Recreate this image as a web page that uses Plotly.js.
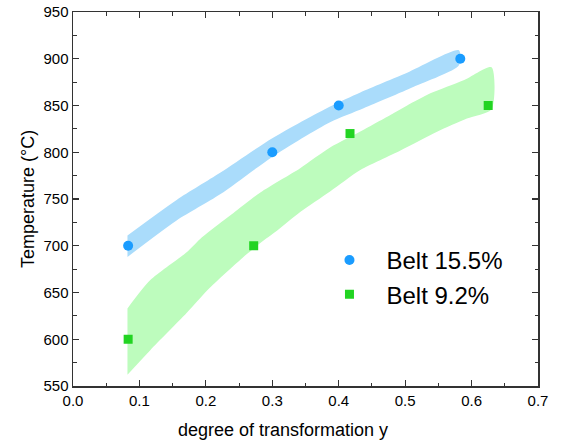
<!DOCTYPE html>
<html>
<head>
<meta charset="utf-8">
<script src="https://cdn.plot.ly/plotly-3.0.1.min.js"></script>
<style>html,body{margin:0;padding:0;background:#fff;}#chart{width:563px;height:442px;}</style>
</head>
<body>
<div id="chart"></div>
<script>
// Measured points
const blueX = [0.083, 0.30, 0.40, 0.583];
const blueY = [700, 800, 850, 900];
const greenX = [0.083, 0.272, 0.417, 0.625];
const greenY = [600, 700, 820, 850];

// Band edges (Belt 15.5%)
const blueUpperX = [0.082, 0.156, 0.2215, 0.30, 0.387, 0.4325, 0.503, 0.581];
const blueUpperY = [711, 749, 778, 815, 849, 864, 885, 909];
const blueLowerX = [0.082, 0.156, 0.2215, 0.30, 0.387, 0.4375, 0.513, 0.581];
const blueLowerY = [688, 727, 755, 795, 832, 847, 870, 893];

// Band edges (Belt 9.2%)
const greenUpperX = [0.082, 0.116, 0.171, 0.191, 0.2265, 0.2416, 0.282, 0.342, 0.387, 0.4375, 0.483, 0.503, 0.538, 0.588, 0.63];
const greenUpperY = [633, 663, 693, 707, 727, 735, 757, 783, 805, 824, 842, 850, 863, 877, 891];
const greenLowerX = [0.082, 0.116, 0.171, 0.206, 0.2566, 0.282, 0.307, 0.342, 0.387, 0.4325, 0.493, 0.548, 0.593, 0.63];
const greenLowerY = [562, 588, 628, 655, 688, 703, 716, 736, 758, 781, 802, 822, 836, 846];

const seriesNames = ['Belt 15.5%', 'Belt 9.2%'];
const xTitle = 'degree of transformation y';
const yTitle = 'Temperature (°C)';

const FONT = 'Liberation Sans, Arial, sans-serif';

// Band outline: upper edge left->right, then lower edge right->left
function bandTrace(ux, uy, lx, ly, color) {
  return {
    x: ux.concat(lx.slice().reverse()),
    y: uy.concat(ly.slice().reverse()),
    type: 'scatter', mode: 'lines', fill: 'toself', fillcolor: color,
    line: {width: 0, color: 'rgba(0,0,0,0)', shape: 'spline', smoothing: 0.7},
    showlegend: false, hoverinfo: 'skip'
  };
}

const traces = [
  bandTrace(blueUpperX, blueUpperY, blueLowerX, blueLowerY, '#aadcfb'),
  bandTrace(greenUpperX, greenUpperY, greenLowerX, greenLowerY, '#bdfcbd'),
  {x: blueX, y: blueY, type: 'scatter', mode: 'markers', name: seriesNames[0],
   marker: {symbol: 'circle', size: 10, color: '#1a9cff', line: {width: 0}}},
  {x: greenX, y: greenY, type: 'scatter', mode: 'markers', name: seriesNames[1],
   marker: {symbol: 'square', size: 9, color: '#22d422', line: {width: 0}}}
];

const axisCommon = {
  showline: true, linecolor: '#333', linewidth: 1.5, mirror: 'ticks',
  ticks: 'inside', ticklen: 6, tickwidth: 1.2, tickcolor: '#333',
  showgrid: false, zeroline: false,
  tickfont: {family: FONT, size: 15, color: '#000'}
};

const layout = {
  width: 563, height: 442,
  margin: {l: 73, r: 25, t: 12, b: 56},
  paper_bgcolor: '#fff', plot_bgcolor: '#fff',
  font: {family: FONT, color: '#000'},
  xaxis: Object.assign({}, axisCommon, {
    range: [0, 0.7], dtick: 0.1, tick0: 0, tickformat: '.1f',
    minor: {ticks: 'inside', ticklen: 3.5, dtick: 0.05, tickcolor: '#333', tickwidth: 1, showgrid: false}
  }),
  yaxis: Object.assign({}, axisCommon, {
    range: [550, 950], dtick: 50, tick0: 550,
    minor: {ticks: 'inside', ticklen: 3.5, dtick: 25, tickcolor: '#333', tickwidth: 1, showgrid: false},
    title: {text: yTitle, font: {size: 18, family: FONT}, standoff: 4}
  }),
  annotations: [
    {text: xTitle, xref: 'paper', yref: 'paper', x: (283 - 73) / 465, y: -0.117,
     xanchor: 'center', yanchor: 'middle', showarrow: false, font: {size: 18, family: FONT, color: '#000'}}
  ],
  showlegend: true,
  legend: {x: 0.515, y: 0.396, xanchor: 'left', yanchor: 'top', bgcolor: 'rgba(0,0,0,0)',
           font: {size: 24, family: FONT, color: '#000'},
           tracegroupgap: 0, itemsizing: 'trace', itemwidth: 64}
};

Plotly.newPlot('chart', traces, layout, {staticPlot: true, displayModeBar: false});
</script>
</body>
</html>
